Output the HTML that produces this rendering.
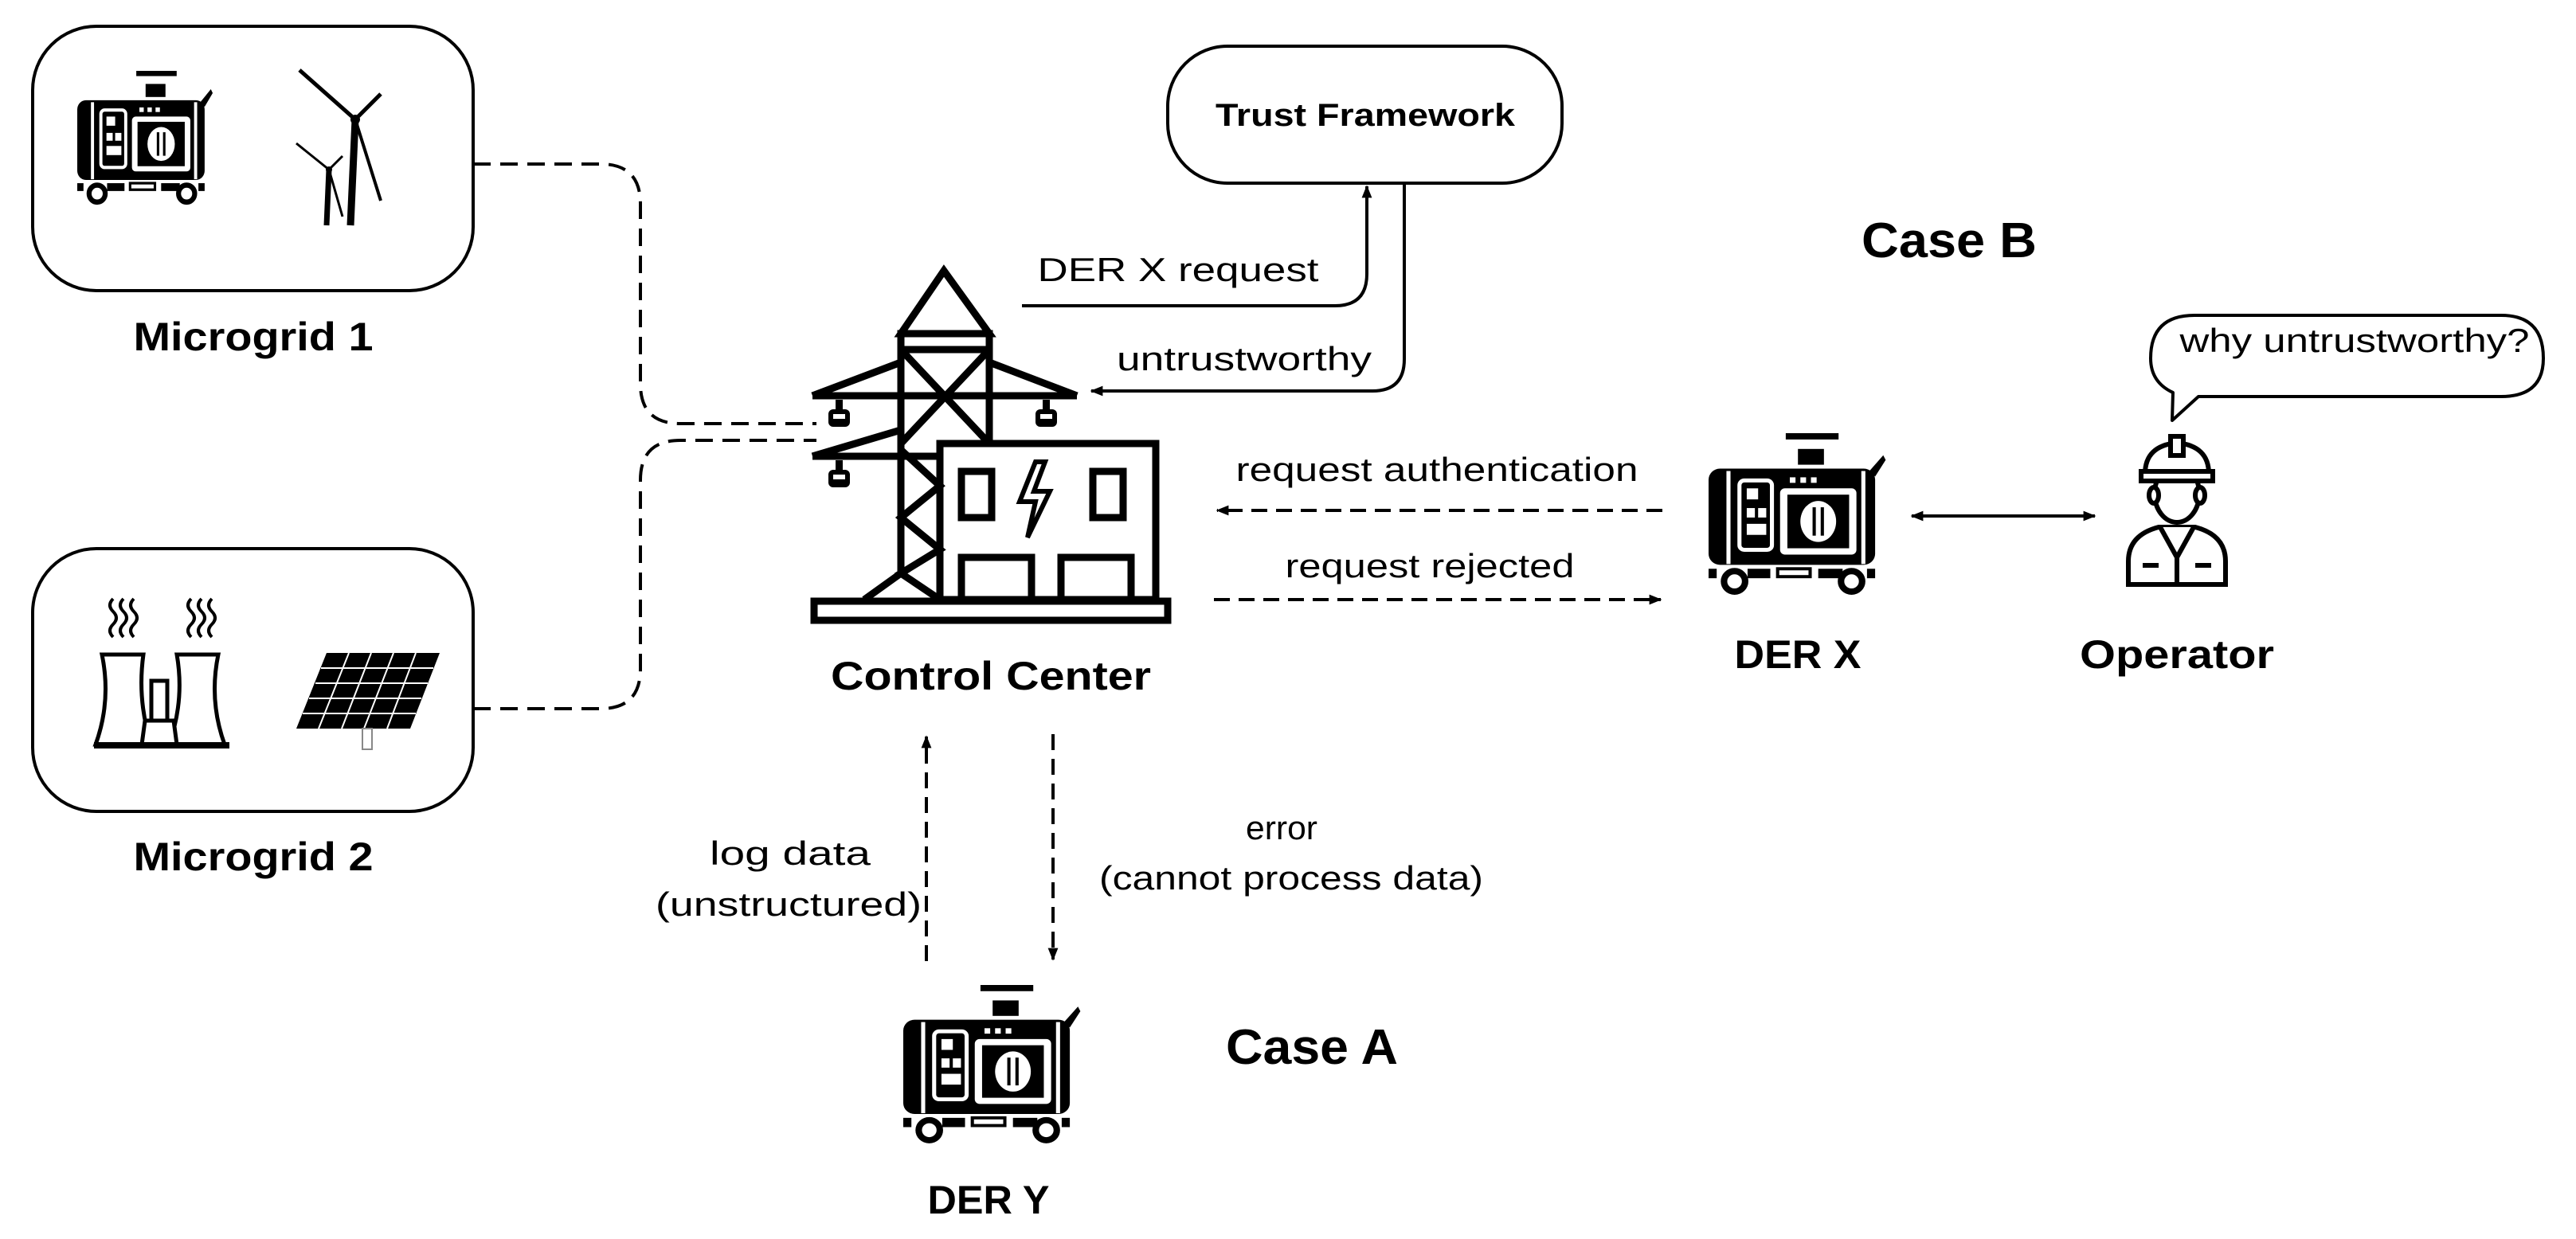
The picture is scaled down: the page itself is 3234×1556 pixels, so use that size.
<!DOCTYPE html>
<html><head><meta charset="utf-8"><style>
html,body{margin:0;padding:0;background:#fff;}
svg{display:block;}
text{font-family:"Liberation Sans",sans-serif;fill:#000;}
.r{font-size:42px;}
.b{font-size:50px;font-weight:bold;}
</style></head><body>
<svg width="3234" height="1556" viewBox="0 0 3234 1556" xmlns="http://www.w3.org/2000/svg">
<defs>
<marker id="ah2" viewBox="0 0 10 10" refX="9" refY="5" markerWidth="16" markerHeight="16" orient="auto-start-reverse" markerUnits="userSpaceOnUse"><path d="M0,1 L10,5 L0,9 z" fill="#000"/></marker>
<g id="gen">
<rect x="95" y="0" width="65" height="8" fill="#000"/>
<rect x="110" y="20" width="32" height="20" fill="#000"/>
<path d="M198,48 L215,28 L218,34 L205,55 z" fill="#000"/>
<rect x="0" y="45" width="205" height="122" rx="14" fill="#000"/>
<rect x="22" y="48" width="5" height="118" fill="#fff"/>
<rect x="188" y="48" width="5" height="118" fill="#fff"/>
<rect x="38" y="60" width="40" height="88" rx="6" fill="#000" stroke="#fff" stroke-width="5"/>
<rect x="47" y="70" width="14" height="14" fill="#fff"/>
<rect x="47" y="95" width="10" height="12" fill="#fff"/><rect x="61" y="95" width="10" height="12" fill="#fff"/>
<rect x="47" y="115" width="24" height="14" fill="#fff"/>
<rect x="100" y="56" width="7" height="7" fill="#fff"/><rect x="113" y="56" width="7" height="7" fill="#fff"/><rect x="126" y="56" width="7" height="7" fill="#fff"/>
<rect x="88" y="70" width="94" height="84" rx="6" fill="#fff"/>
<rect x="97" y="78" width="76" height="68" fill="#000"/>
<ellipse cx="135" cy="112" rx="22" ry="26" fill="#fff"/>
<rect x="128" y="94" width="4" height="36" fill="#000"/><rect x="138" y="94" width="4" height="36" fill="#000"/>
<rect x="0" y="172" width="10" height="12" fill="#000"/><rect x="48" y="172" width="28" height="12" fill="#000"/>
<rect x="85" y="172" width="40" height="10" fill="none" stroke="#000" stroke-width="4"/>
<rect x="135" y="172" width="30" height="12" fill="#000"/><rect x="195" y="172" width="10" height="12" fill="#000"/>
<circle cx="32" cy="188" r="13" fill="#fff" stroke="#000" stroke-width="8"/>
<circle cx="176" cy="188" r="13" fill="#fff" stroke="#000" stroke-width="8"/>
</g>
</defs>

<rect x="41" y="33" width="553" height="332" rx="80" fill="none" stroke="#000" stroke-width="4"/>
<rect x="41" y="689" width="553" height="330" rx="80" fill="none" stroke="#000" stroke-width="4"/>
<text class="b" x="318" y="440" text-anchor="middle" textLength="301" lengthAdjust="spacingAndGlyphs">Microgrid 1</text>
<text class="b" x="318" y="1093" text-anchor="middle" textLength="301" lengthAdjust="spacingAndGlyphs">Microgrid 2</text>

<use href="#gen" transform="translate(97,89) scale(0.78,0.82)"/>
<g stroke="#000" fill="none">
<path d="M446,150 L440,283" stroke-width="9"/>
<path d="M446,150 L376,88" stroke-width="5"/>
<path d="M446,150 L478,118" stroke-width="5"/>
<path d="M446,150 L478,252" stroke-width="4"/>
<path d="M413,213 L410,283" stroke-width="7"/>
<path d="M413,213 L372,180" stroke-width="3"/>
<path d="M413,213 L430,196" stroke-width="3"/>
<path d="M413,213 L430,272" stroke-width="3"/>
</g>
<circle cx="446" cy="150" r="6" fill="#000"/><circle cx="413" cy="213" r="4" fill="#000"/>

<g stroke="#000" stroke-width="4" fill="none">
<path d="M142,800 q-8,-8 0,-16 q8,-8 0,-16 q-8,-8 0,-16"/>
<path d="M155,800 q-8,-8 0,-16 q8,-8 0,-16 q-8,-8 0,-16"/>
<path d="M168,800 q-8,-8 0,-16 q8,-8 0,-16 q-8,-8 0,-16"/>
<path d="M240,800 q-8,-8 0,-16 q8,-8 0,-16 q-8,-8 0,-16"/>
<path d="M253,800 q-8,-8 0,-16 q8,-8 0,-16 q-8,-8 0,-16"/>
<path d="M266,800 q-8,-8 0,-16 q8,-8 0,-16 q-8,-8 0,-16"/>
</g>
<path d="M128,822 L180,822 Q172,880 190,935 L120,935 Q140,880 128,822 z" fill="#fff" stroke="#000" stroke-width="5"/>
<path d="M222,822 L274,822 Q262,880 282,935 L212,935 Q232,880 222,822 z" fill="#fff" stroke="#000" stroke-width="5"/>
<rect x="190" y="855" width="20" height="60" fill="#fff" stroke="#000" stroke-width="5"/>
<path d="M182,905 L218,905 L222,935 L178,935 z" fill="#fff" stroke="#000" stroke-width="5"/>
<rect x="118" y="932" width="170" height="8" fill="#000"/>
<path d="M410,820 L552,820 L515,915 L372,915 z" fill="#000"/>
<g stroke="#fff" stroke-width="2">
<path d="M403,839 L544,839 M396,858 L537,858 M388,877 L529,877 M380,896 L522,896"/>
<path d="M438,820 L400,915 M466,820 L429,915 M494,820 L457,915 M522,820 L486,915"/>
</g>
<rect x="455" y="915" width="12" height="26" fill="#fff" stroke="#888" stroke-width="2"/>

<path d="M594,206 L754,206 Q804,206 804,256 L804,482 Q804,532 854,532 L1025,532" fill="none" stroke="#000" stroke-width="4" stroke-dasharray="22,12"/>
<path d="M594,890 L754,890 Q804,890 804,840 L804,603 Q804,553 854,553 L1025,553" fill="none" stroke="#000" stroke-width="4" stroke-dasharray="22,12"/>

<g stroke="#000" stroke-width="9" fill="none" stroke-linejoin="miter">
<path d="M1131,419 L1185,340 L1242,419 z"/>
<rect x="1131" y="419" width="111" height="20"/>
<path d="M1131,439 L1131,565 M1242,439 L1242,557"/>
<path d="M1131,439 L1242,557 M1242,439 L1131,557"/>
<path d="M1020,497 L1131,455 M1242,455 L1352,497 M1020,497 L1352,497"/>
<path d="M1020,573 L1131,540 M1020,573 L1180,573"/>
<path d="M1131,565 L1180,610 L1131,650 L1180,690 L1131,720 L1180,753 M1131,565 L1131,720 L1085,753"/>
<rect x="1180" y="557" width="271" height="196"/>
<rect x="1207" y="592" width="38" height="58"/>
<rect x="1372" y="592" width="38" height="58"/>
<path d="M1300,580 L1280,630 L1300,630 L1290,675 L1318,617 L1298,617 L1312,580 z" stroke-width="6"/>
<rect x="1207" y="700" width="88" height="53"/>
<rect x="1332" y="700" width="88" height="53"/>
<rect x="1022" y="755" width="444" height="24"/>
</g>
<g fill="#000">
<rect x="1049" y="502" width="9" height="12"/><rect x="1040" y="514" width="27" height="22" rx="6"/>
<rect x="1309" y="502" width="9" height="12"/><rect x="1300" y="514" width="27" height="22" rx="6"/>
<rect x="1049" y="578" width="9" height="12"/><rect x="1040" y="590" width="27" height="22" rx="6"/>
</g>
<g fill="#fff"><rect x="1046" y="520" width="15" height="6"/><rect x="1306" y="520" width="15" height="6"/><rect x="1046" y="596" width="15" height="6"/></g>
<text class="b" x="1244" y="866" text-anchor="middle" textLength="402" lengthAdjust="spacingAndGlyphs">Control Center</text>

<rect x="1466" y="58" width="495" height="172" rx="75" fill="#fff" stroke="#000" stroke-width="4"/>
<text x="1714" y="158" text-anchor="middle" style="font-size:40px;font-weight:bold" textLength="376" lengthAdjust="spacingAndGlyphs">Trust Framework</text>
<path d="M1283,384 L1676,384 Q1716,384 1716,344 L1716,234" fill="none" stroke="#000" stroke-width="4" marker-end="url(#ah2)"/>
<text class="r" x="1479" y="353" text-anchor="middle" textLength="353" lengthAdjust="spacingAndGlyphs">DER X request</text>
<path d="M1763,231 L1763,451 Q1763,491 1723,491 L1370,491" fill="none" stroke="#000" stroke-width="4" marker-end="url(#ah2)"/>
<text class="r" x="1562" y="465" text-anchor="middle" textLength="320" lengthAdjust="spacingAndGlyphs">untrustworthy</text>

<text x="2447" y="323" text-anchor="middle" style="font-size:62px;font-weight:bold" textLength="220" lengthAdjust="spacingAndGlyphs">Case B</text>
<text x="1647" y="1336" text-anchor="middle" style="font-size:62px;font-weight:bold" textLength="216" lengthAdjust="spacingAndGlyphs">Case A</text>

<path d="M2087,641 L1528,641" fill="none" stroke="#000" stroke-width="4" stroke-dasharray="20,11" marker-end="url(#ah2)"/>
<text class="r" x="1804" y="604" text-anchor="middle" textLength="505" lengthAdjust="spacingAndGlyphs">request authentication</text>
<path d="M1524,753 L2085,753" fill="none" stroke="#000" stroke-width="4" stroke-dasharray="20,11" marker-end="url(#ah2)"/>
<text class="r" x="1795" y="725" text-anchor="middle" textLength="363" lengthAdjust="spacingAndGlyphs">request rejected</text>

<use href="#gen" transform="translate(2145,544) scale(1.02,0.99)"/>
<text class="b" x="2257" y="839" text-anchor="middle" textLength="159" lengthAdjust="spacingAndGlyphs">DER X</text>
<path d="M2400,648 L2630,648" fill="none" stroke="#000" stroke-width="4" marker-start="url(#ah2)" marker-end="url(#ah2)"/>

<g stroke="#000" stroke-width="6" fill="#fff">
<path d="M2672,734 L2672,705 Q2672,672 2710,662 L2756,662 Q2794,672 2794,705 L2794,734 z"/>
<path d="M2712,662 L2733,700 L2754,662"/>
<path d="M2733,700 L2733,734"/>
<path d="M2690,710 L2710,710 M2756,710 L2776,710"/>
<ellipse cx="2733" cy="620" rx="28" ry="36"/>
<ellipse cx="2704" cy="622" rx="6" ry="10"/><ellipse cx="2762" cy="622" rx="6" ry="10"/>
<path d="M2693,595 Q2693,560 2733,556 Q2773,560 2773,595 z"/>
<rect x="2688" y="592" width="90" height="12"/>
<rect x="2725" y="548" width="16" height="24"/>
</g>
<text class="b" x="2733" y="839" text-anchor="middle" textLength="244" lengthAdjust="spacingAndGlyphs">Operator</text>

<path d="M2760,498 L3140,498 Q3193,498 3193,450 Q3193,396 3140,396 L2755,396 Q2700,396 2700,450 Q2700,480 2728,493 L2727,528 z" fill="#fff" stroke="#000" stroke-width="4" stroke-linejoin="round"/>
<text class="r" x="2956" y="442" text-anchor="middle" textLength="439" lengthAdjust="spacingAndGlyphs">why untrustworthy?</text>

<path d="M1163,1207 L1163,925" fill="none" stroke="#000" stroke-width="4" stroke-dasharray="20,11" marker-end="url(#ah2)"/>
<path d="M1322,922 L1322,1205" fill="none" stroke="#000" stroke-width="4" stroke-dasharray="20,11" marker-end="url(#ah2)"/>
<text class="r" x="992" y="1086" text-anchor="middle" textLength="202" lengthAdjust="spacingAndGlyphs">log data</text>
<text class="r" x="990" y="1150" text-anchor="middle" textLength="334" lengthAdjust="spacingAndGlyphs">(unstructured)</text>
<text class="r" x="1609" y="1054" text-anchor="middle" textLength="90" lengthAdjust="spacingAndGlyphs">error</text>
<text class="r" x="1621" y="1117" text-anchor="middle" textLength="482" lengthAdjust="spacingAndGlyphs">(cannot process data)</text>

<use href="#gen" transform="translate(1134,1237) scale(1.02,0.97)"/>
<text class="b" x="1241" y="1524" text-anchor="middle" textLength="153" lengthAdjust="spacingAndGlyphs">DER Y</text>
</svg>
</body></html>
